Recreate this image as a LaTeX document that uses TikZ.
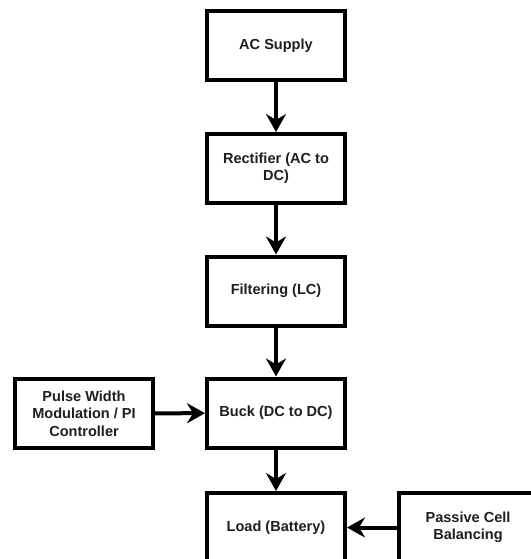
\documentclass[tikz,border=0pt]{standalone}
\usepackage{fontspec}
\setmainfont{Liberation Sans}
\usetikzlibrary{arrows.meta}
\begin{document}
\begin{tikzpicture}[x=1bp,y=-1bp,
  blk/.style={draw=black,line width=4bp,fill=white,minimum width=138bp,minimum height=69bp,align=center,inner sep=2bp,font=\fontsize{14.6}{17.5}\selectfont\bfseries,text=black!88},
  conn/.style={line width=4bp,-{Stealth[length=18bp,width=20bp,inset=6bp]}}]
\useasboundingbox (0,0) rectangle (531,559);
\node[blk] (ac) at (276,46) {AC Supply};
\node[blk] (rect) at (276,168.5) {Rectifier (AC to\\DC)};
\node[blk] (filt) at (276,291) {Filtering (LC)};
\node[blk] (buck) at (276,413) {Buck (DC to DC)};
\node[blk] (pwm) at (84,413.5) {Pulse Width\\Modulation / PI\\Controller};
\node[blk] (load) at (276,527.5) {Load (Battery)};
\node[blk] (pcb) at (468,527.5) {Passive Cell\\Balancing};
\draw[conn] (ac) -- (rect);
\draw[conn] (rect) -- (filt);
\draw[conn] (filt) -- (buck);
\draw[conn] (pwm) -- (buck);
\draw[conn] (buck) -- (load);
\draw[conn] (pcb) -- (load);
\end{tikzpicture}
\end{document}
